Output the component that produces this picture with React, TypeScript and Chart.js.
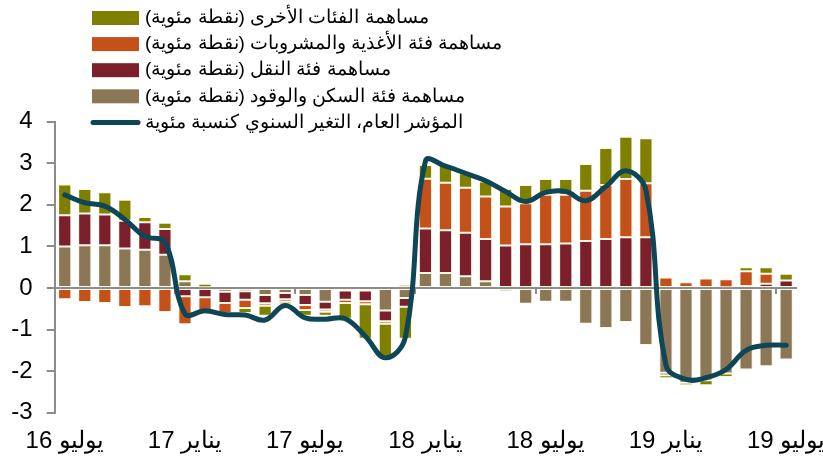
import React, { useEffect, useRef } from 'react';
import { Chart, registerables } from 'chart.js';

Chart.register(...registerables);

// ---- Data ----
const categories = [
  'يوليو 16', 'أغسطس 16', 'سبتمبر 16', 'أكتوبر 16', 'نوفمبر 16', 'ديسمبر 16',
  'يناير 17', 'فبراير 17', 'مارس 17', 'أبريل 17', 'مايو 17', 'يونيو 17',
  'يوليو 17', 'أغسطس 17', 'سبتمبر 17', 'أكتوبر 17', 'نوفمبر 17', 'ديسمبر 17',
  'يناير 18', 'فبراير 18', 'مارس 18', 'أبريل 18', 'مايو 18', 'يونيو 18',
  'يوليو 18', 'أغسطس 18', 'سبتمبر 18', 'أكتوبر 18', 'نوفمبر 18', 'ديسمبر 18',
  'يناير 19', 'فبراير 19', 'مارس 19', 'أبريل 19', 'مايو 19', 'يونيو 19',
  'يوليو 19',
];

const housing = [
  1.0, 1.03, 1.03, 0.95, 0.92, 0.8,
  0.16, 0.02, -0.09, -0.08, -0.17, -0.12,
  -0.17, -0.33, -0.06, -0.06, -0.54, -0.24,
  0.36, 0.36, 0.28, 0.16, -0.08, -0.38,
  -0.33, -0.33, -0.86, -0.96, -0.82, -1.37,
  -2.04, -2.28, -2.16, -2.06, -1.96, -1.88, -1.72,
];

const transport = [
  0.75, 0.76, 0.74, 0.67, 0.66, 0.62,
  -0.2, -0.22, -0.27, -0.2, -0.2, -0.15,
  -0.24, -0.19, -0.22, -0.26, -0.26, -0.21,
  1.07, 1.03, 1.05, 1.02, 1.02, 1.05,
  1.05, 1.07, 1.13, 1.18, 1.22, 1.22,
  -0.06, 0, -0.06, 0.02, 0.05, 0.1, 0.18,
];

const food = [
  -0.27, -0.34, -0.36, -0.46, -0.44, -0.58,
  -0.67, -0.4, -0.24, -0.2, -0.06, -0.06,
  -0.12, -0.05, -0.08, -0.07, -0.06, 0.08,
  1.2, 1.14, 1.08, 1.02, 0.94, 0.99,
  1.19, 1.17, 1.21, 1.3, 1.4, 1.3,
  0.25, 0.14, 0.23, 0.19, 0.35, 0.24, 0,
];

const other = [
  0.74, 0.59, 0.53, 0.5, 0.13, 0.15,
  0.17, 0.08, 0, -0.12, -0.24, -0.06,
  -0.14, -0.1, -0.38, -0.83, -0.79, -0.77,
  0.33, 0.43, 0.35, 0.36, 0.42, 0.44,
  0.38, 0.38, 0.64, 0.89, 1.02, 1.08,
  -0.07, -0.06, -0.12, -0.08, 0.1, 0.16, 0.16,
];

const headline = [
  2.24, 2.05, 1.97, 1.65, 1.24, 1.1,
  -0.62, -0.55, -0.64, -0.65, -0.77, -0.42,
  -0.72, -0.75, -0.74, -1.16, -1.68, -1.18,
  3.05, 2.93, 2.76, 2.58, 2.32, 2.08,
  2.3, 2.32, 2.1, 2.44, 2.82, 2.35,
  -1.85, -2.2, -2.16, -1.96, -1.5, -1.38, -1.38,
];

const yTicks = [-3, -2, -1, 0, 1, 2, 3, 4];

const labelOther = 'مساهمة الفئات الأخرى (نقطة مئوية)';
const labelFood = 'مساهمة فئة الأغذية والمشروبات (نقطة مئوية)';
const labelTransport = 'مساهمة فئة النقل (نقطة مئوية)';
const labelHousing = 'مساهمة فئة السكن والوقود (نقطة مئوية)';
const labelHeadline = 'المؤشر العام، التغير السنوي كنسبة مئوية';

// ---- Styles ----
const cOther = '#808000';
const cFood = '#c4501a';
const cTransport = '#7b1f2a';
const cHousing = '#8b7756';
const cLine = '#0c4657';
const cAxis = '#8c8c8c';
const FONT = "'Liberation Sans', Arial, sans-serif";

const legendPlugin = {
  id: 'customLegend',
  afterDraw(chart: any) {
    const ctx = chart.ctx as CanvasRenderingContext2D;
    const ds = chart.data.datasets;
    // order shown: other, food, transport, housing, headline
    const order = [4, 3, 2, 1, 0];
    ctx.save();
    ctx.font = `19px ${FONT}`;
    ctx.textBaseline = 'middle';
    (ctx as any).direction = 'rtl';
    ctx.textAlign = 'left';
    order.forEach((di, i) => {
      const d = ds[di];
      const y = 18 + i * 26.1;
      if (d.type === 'line') {
        ctx.strokeStyle = d.borderColor;
        ctx.lineWidth = 5;
        ctx.lineCap = 'round';
        ctx.beginPath();
        ctx.moveTo(93, y);
        ctx.lineTo(138, y);
        ctx.stroke();
      } else {
        ctx.fillStyle = d.backgroundColor;
        ctx.fillRect(92, y - 7, 47, 14);
      }
      ctx.fillStyle = '#000';
      ctx.fillText(d.label, 145, y);
    });
    ctx.restore();
  },
};

export default function App() {
  const ref = useRef<HTMLCanvasElement>(null);

  useEffect(() => {
    if (!ref.current) return;
    const barCommon = {
      type: 'bar' as const,
      stack: 'contrib',
      order: 1,
      borderColor: 'rgba(250,245,215,0.75)',
      borderWidth: 1,
      borderSkipped: false,
      barPercentage: 0.66,
      categoryPercentage: 1,
    };
    const chart = new Chart(ref.current, {
      type: 'bar',
      data: {
        labels: categories,
        datasets: [
          {
            type: 'line',
            label: labelHeadline,
            data: headline,
            borderColor: cLine,
            backgroundColor: cLine,
            borderWidth: 5,
            pointRadius: 0,
            tension: 0.4,
            borderCapStyle: 'round',
            borderJoinStyle: 'round',
            order: 0,
            stack: 'line',
          } as any,
          { ...barCommon, label: labelHousing, data: housing, backgroundColor: cHousing },
          { ...barCommon, label: labelTransport, data: transport, backgroundColor: cTransport },
          { ...barCommon, label: labelFood, data: food, backgroundColor: cFood },
          { ...barCommon, label: labelOther, data: other, backgroundColor: cOther },
        ],
      },
      options: {
        responsive: false,
        animation: false,
        layout: { padding: { top: 121.7, left: 0, right: 0, bottom: 0 } },
        plugins: { legend: { display: false }, tooltip: { enabled: false } },
        scales: {
          x: {
            type: 'category',
            position: { y: 0 } as any,
            stacked: true,
            offset: true,
            grid: {
              offset: true,
              drawOnChartArea: false,
              drawTicks: true,
              tickLength: 5,
              lineWidth: 2,
              tickColor: (c: any) => (c.index % 6 === 0 ? cAxis : 'rgba(0,0,0,0)'),
              color: cAxis,
            },
            border: { display: true, color: cAxis, width: 2 },
            ticks: { display: false, autoSkip: false },
            afterFit: (s: any) => {
              s.paddingLeft = 0;
              s.paddingRight = 0;
            },
          },
          x2: {
            type: 'category',
            axis: 'x',
            position: 'bottom',
            offset: true,
            grid: { display: false, drawTicks: false },
            border: { display: false },
            ticks: {
              autoSkip: false,
              maxRotation: 0,
              minRotation: 0,
              padding: 14,
              color: '#000',
              font: { family: FONT, size: 24 },
              callback: (_v: any, i: number) => (i % 6 === 0 ? categories[i] : ''),
            },
            afterFit: (s: any) => {
              s.height = 50.3;
              s.paddingLeft = 0;
              s.paddingRight = 26.8;
            },
          } as any,
          y: {
            stacked: true,
            min: -3,
            max: 4,
            position: 'left',
            grid: {
              drawOnChartArea: false,
              drawTicks: true,
              tickLength: 8,
              lineWidth: 2,
              color: cAxis,
            },
            border: { display: true, color: cAxis, width: 2 },
            ticks: {
              stepSize: 1,
              padding: 14,
              color: '#000',
              font: { family: FONT, size: 24 },
              callback: (v: any) => (yTicks.includes(Number(v)) ? String(v) : ''),
            },
            afterFit: (s: any) => {
              s.width = 54.7;
            },
          },
        },
      },
      plugins: [legendPlugin],
    });
    return () => chart.destroy();
  }, []);

  return (
    <div style={{ position: 'absolute', left: 0, top: 0, width: 823, height: 463 }}>
      <canvas ref={ref} width={823} height={463} />
    </div>
  );
}
